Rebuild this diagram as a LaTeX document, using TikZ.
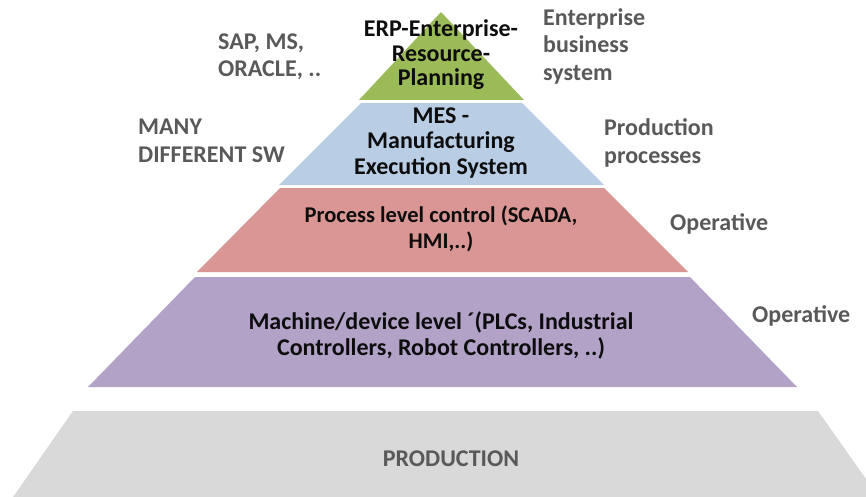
\documentclass[tikz,border=0pt]{standalone}
\usepackage{fontspec}
\setmainfont{Carlito}
\definecolor{erpgreen}{HTML}{9BBB59}
\definecolor{mesblue}{HTML}{B9CDE5}
\definecolor{procred}{HTML}{D99694}
\definecolor{machpurple}{HTML}{B3A2C7}
\definecolor{prodgray}{HTML}{D9D9D9}
\definecolor{sidegray}{HTML}{595959}
\definecolor{darktext}{HTML}{0D0D0D}
\tikzset{
  layertext/.style={font=\fontsize{24}{25.5}\selectfont\bfseries, text=darktext, align=center, inner sep=0pt},
  sidetext/.style={font=\fontsize{24}{27.5}\selectfont\bfseries, text=sidegray, align=left, inner sep=0pt},
}
\begin{document}
\begin{tikzpicture}[x=1pt,y=-1pt]
\useasboundingbox (0,0) rectangle (866,497);
% layers
\fill[erpgreen] (441,12) -- (524,100) -- (359,100) -- cycle;
\fill[mesblue] (361,103) -- (522,103) -- (604,185) -- (279,185) -- cycle;
\fill[procred] (280,188) -- (604,188) -- (688,272) -- (197,272) -- cycle;
\fill[machpurple] (195,277) -- (690,277) -- (797,387) -- (88,387) -- cycle;
\fill[prodgray] (73,411) -- (818,411) -- (888,510) -- (4,510) -- cycle;
% layer texts
\node[layertext, font=\fontsize{24}{24.5}\selectfont\bfseries] (erp) at (441,55) {ERP-Enterprise-\\Resource-\\Planning};
\node[layertext] (mes) at (441,143) {MES -\\Manufacturing\\Execution System};
\node[layertext, font=\fontsize{22.5}{26}\selectfont\bfseries] (proc) at (441,229) {Process level control (SCADA,\\HMI,..)};
\node[layertext, font=\fontsize{24}{26}\selectfont\bfseries] (mach) at (441,335) {Machine/device level ´(PLCs, Industrial\\Controllers, Robot Controllers, ..)};
\node[layertext, text=sidegray] (prod) at (451,459) {PRODUCTION};
% side texts
\node[sidetext, anchor=west] (sap) at (218,57) {SAP, MS,\\ORACLE, ..};
\node[sidetext, anchor=west] (many) at (138,141) {MANY\\DIFFERENT SW};
\node[sidetext, anchor=west] (ent) at (543,46) {Enterprise\\business\\system};
\node[sidetext, anchor=west] (prodproc) at (604,143) {Production\\processes};
\node[sidetext, anchor=west] (op1) at (670,224) {Operative};
\node[sidetext, anchor=west] (op2) at (752,316) {Operative};
\end{tikzpicture}
\end{document}
